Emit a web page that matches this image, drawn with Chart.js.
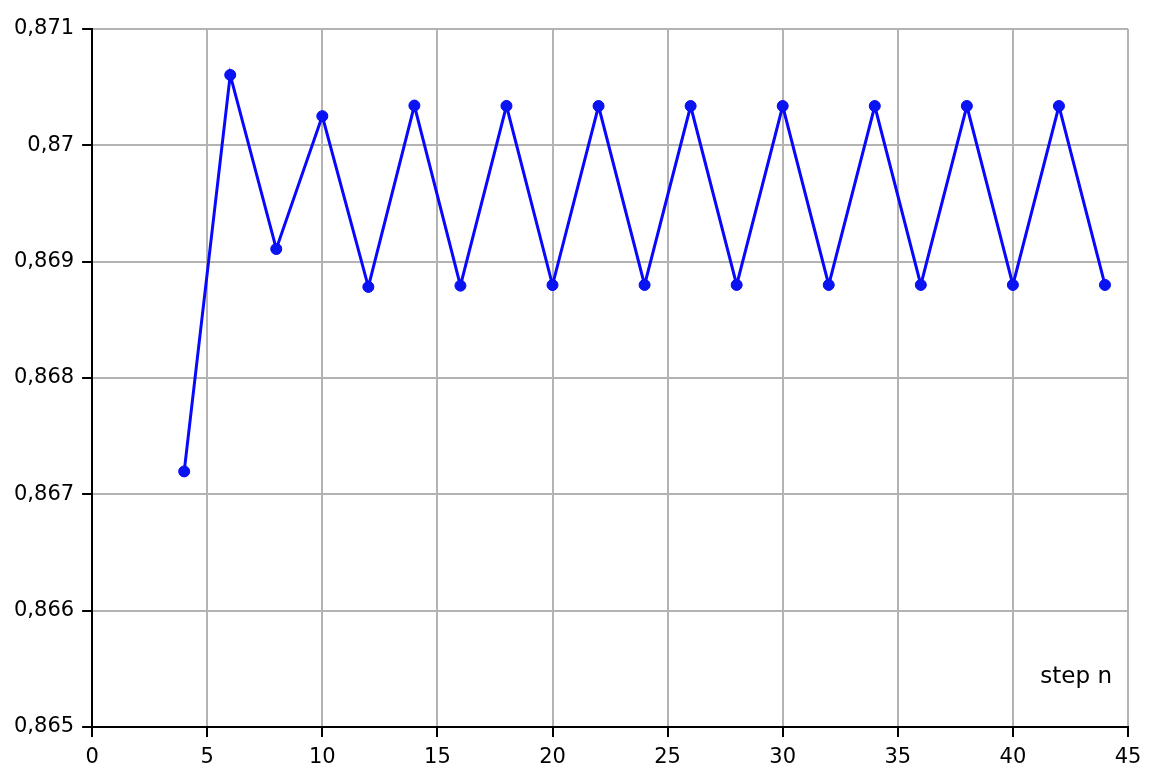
<!DOCTYPE html>
<html lang="en">
<head>
    <meta charset="UTF-8">
    <title>step n</title>
    <script src="https://cdn.jsdelivr.net/npm/chart.js"></script>
    <style>
        body { margin: 0; background: #fff; }
        #wrap { width: 1156px; height: 778px; }
    </style>
</head>
<body>
    <div id="wrap"><canvas id="myChart"></canvas></div>
    <script>
        // values
        const steps = [4, 6, 8, 10, 12, 14, 16, 18, 20, 22, 24, 26, 28, 30, 32, 34, 36, 38, 40, 42, 44];
        const values = [0.867197, 0.870605, 0.869109, 0.870251, 0.868783, 0.870342, 0.868794, 0.870339,
            0.868799, 0.870338, 0.868800, 0.870338, 0.868800, 0.870338, 0.868800, 0.870338,
            0.868800, 0.870338, 0.868800, 0.870338, 0.868800];
        const xLabel = 'step n';

        const font = { family: '"DejaVu Sans", sans-serif', size: 21 };

        // the axis name sits inside the plot, bottom right
        const stepLabel = {
            id: 'stepLabel',
            afterDraw(chart) {
                const a = chart.chartArea;
                const c = chart.ctx;
                c.save();
                c.font = '23px ' + font.family;
                c.fillStyle = '#000';
                c.textAlign = 'right';
                c.textBaseline = 'middle';
                c.fillText(xLabel, a.right - 16, a.bottom - 50);
                c.restore();
            }
        };

        const ctx = document.getElementById('myChart').getContext('2d');
        const myChart = new Chart(ctx, {
            type: 'line',
            data: {
                datasets: [{
                    data: steps.map((s, i) => ({ x: s, y: values[i] })),
                    borderColor: '#0808ff',
                    backgroundColor: '#0a14f0',
                    borderWidth: 3,
                    pointRadius: 5.5,
                    pointBorderWidth: 1,
                    tension: 0
                }]
            },
            options: {
                responsive: true,
                maintainAspectRatio: false,
                animation: false,
                layout: { padding: { left: 6, right: 28, top: 29, bottom: 0 } },
                plugins: { legend: { display: false }, tooltip: { enabled: false } },
                scales: {
                    x: {
                        type: 'linear',
                        min: 0,
                        max: 45,
                        ticks: { stepSize: 5, color: '#000', font: { ...font, lineHeight: 1 }, padding: 10, maxRotation: 0 },
                        grid: { color: '#b3b3b3', lineWidth: 2, tickColor: '#000', tickLength: 10, tickWidth: 2 },
                        border: { color: '#000', width: 2 }
                    },
                    y: {
                        min: 0.865,
                        max: 0.871,
                        ticks: {
                            stepSize: 0.001,
                            color: '#000',
                            font: font,
                            padding: 8,
                            callback: v => String(+v.toFixed(3)).replace('.', ',')
                        },
                        grid: { color: '#b3b3b3', lineWidth: 2, tickColor: '#000', tickLength: 10, tickWidth: 2 },
                        border: { color: '#000', width: 2 }
                    }
                }
            },
            plugins: [stepLabel]
        });
    </script>
</body>
</html>
